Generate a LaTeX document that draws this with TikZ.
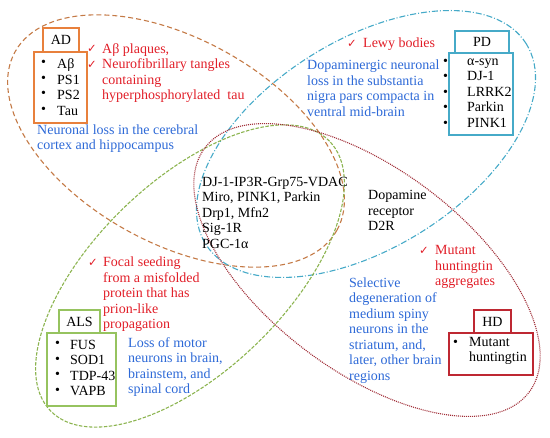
\documentclass[tikz,border=0pt]{standalone}
\usepackage{fontspec}
\setmainfont{Liberation Serif}
\newfontfamily\symf{DejaVu Sans}
\usetikzlibrary{shapes.geometric}
\definecolor{orE}{RGB}{196,122,70}
\definecolor{orB}{RGB}{232,128,60}
\definecolor{cyE}{RGB}{70,170,200}
\definecolor{grE}{RGB}{140,180,80}
\definecolor{grB}{RGB}{150,195,95}
\definecolor{rdE}{RGB}{160,45,55}
\definecolor{rdB}{RGB}{190,40,50}
\definecolor{redT}{RGB}{225,30,40}
\definecolor{bluT}{RGB}{45,105,215}
\newcommand{\ck}{{\symf\fontsize{11.5}{15.5}\selectfont ✓}}
\begin{document}
\begin{tikzpicture}[x=1pt,y=-1pt,font=\fontsize{14}{15.5}\selectfont,
  ell/.style={ellipse,inner sep=0pt,line width=1.1pt},
  adE/.style={ell,draw=orE,dash pattern=on 5pt off 3pt},
  pdE/.style={ell,draw=cyE,dash pattern=on 6pt off 2pt on 1pt off 2pt},
  alsE/.style={ell,draw=grE,dash pattern=on 3.5pt off 1.5pt},
  hdE/.style={ell,draw=rdE,dash pattern=on 1pt off 1pt},
  bx/.style={rectangle,inner sep=0pt,line width=1.3pt,fill=white},
  txt/.style={inner sep=0pt,align=left,anchor=west},
  red/.style={txt,text=redT},
  blu/.style={txt,text=bluT}]
\useasboundingbox (0,0) rectangle (550,438);
% ellipses
\node[adE,minimum width=368pt,minimum height=204pt,rotate=-29] (eAD) at (176,141) {};
\node[pdE,minimum width=378pt,minimum height=208pt,rotate=32] (ePD) at (366,144) {};
\node[alsE,minimum width=388pt,minimum height=190pt,rotate=44] (eALS) at (190,276) {};
\node[hdE,minimum width=406pt,minimum height=202pt,rotate=-37] (eHD) at (367,270) {};
% AD
\node[bx,draw=orB,minimum width=36pt,minimum height=24pt] (adT) at (61,40) {AD};
\node[bx,draw=orB,minimum width=53pt,minimum height=71pt] (adL) at (60.5,87.5) {};
\node[txt] (adB) at (41,87) {•\\•\\•\\•};
\node[txt] (adI) at (57,87) {Aβ\\PS1\\PS2\\Tau};
\node[red] (adC) at (87,57) {\ck\\\ck};
\node[red] (adR) at (102,73) {Aβ plaques,\\Neurofibrillary tangles\\containing\\hyperphosphorylated\ \ tau};
\node[blu] (adX) at (37,138.5) {Neuronal loss in the cerebral\\cortex and hippocampus};
% PD
\node[bx,draw=cyE,minimum width=54pt,minimum height=22pt] (pdT) at (482,42) {PD};
\node[bx,draw=cyE,minimum width=64pt,minimum height=82pt] (pdL) at (481,94) {};
\node[txt] (pdB) at (443,93) {•\\•\\•\\•\\•};
\node[txt] (pdI) at (467,93) {α-syn\\DJ-1\\LRRK2\\Parkin\\PINK1};
\node[red] (pdC) at (347,44) {\ck};
\node[red] (pdR) at (363,44) {Lewy bodies};
\node[blu] (pdX) at (307,88) {Dopaminergic neuronal\\loss in the substantia\\nigra pars compacta in\\ventral mid-brain};
% ALS
\node[bx,draw=grB,minimum width=41pt,minimum height=23pt] (alsT) at (79.5,321.5) {ALS};
\node[bx,draw=grB,minimum width=69pt,minimum height=73pt] (alsL) at (81.5,369.5) {};
\node[txt] (alsB) at (55,368) {•\\•\\•\\•};
\node[txt] (alsI) at (70,368) {FUS\\SOD1\\TDP-43\\VAPB};
\node[red] (alsC) at (88,263) {\ck};
\node[red] (alsR) at (103,294.5) {Focal seeding\\from a misfolded\\protein that has\\prion-like\\propagation};
\node[blu] (alsX) at (128,367) {Loss of motor\\neurons in brain,\\brainstem, and\\spinal cord};
% HD
\node[bx,draw=rdB,minimum width=37pt,minimum height=23pt] (hdT) at (492.5,321.5) {HD};
\node[bx,draw=rdB,minimum width=84pt,minimum height=42pt] (hdL) at (491,354) {};
\node[txt] (hdB) at (453,343) {•};
\node[txt] (hdI) at (469,351) {Mutant\\huntingtin};
\node[red] (hdC) at (419,251) {\ck};
\node[red] (hdR) at (435,267) {Mutant\\huntingtin\\aggregates};
\node[blu] (hdX) at (349,330.5) {Selective\\degeneration of\\medium spiny\\neurons in the\\striatum, and,\\later, other brain\\regions};
% centre
\node[txt] (mid) at (202,212.5) {DJ-1-IP3R-Grp75-VDAC\\Miro, PINK1, Parkin\\Drp1, Mfn2\\Sig-1R\\PGC-1α};
\node[txt] (d2r) at (368,210.5) {Dopamine\\receptor\\D2R};
\end{tikzpicture}
\end{document}
